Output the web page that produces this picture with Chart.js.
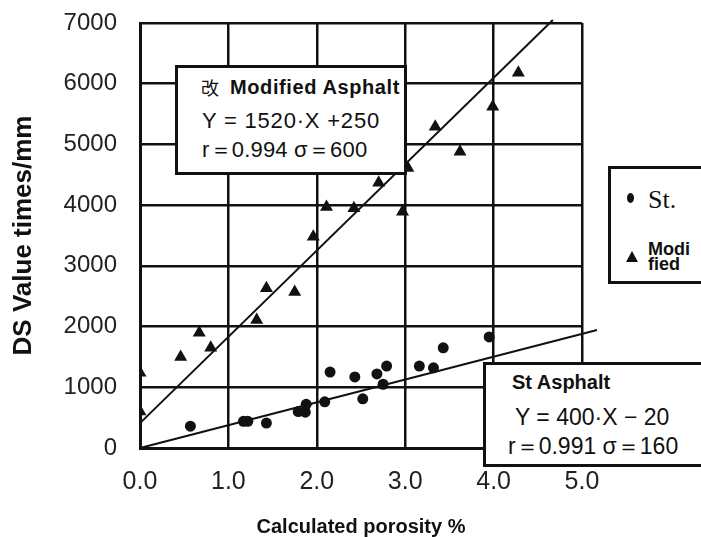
<!DOCTYPE html>
<html lang="en">
<head>
  <meta charset="UTF-8" />
  <title>DS Value vs Calculated Porosity</title>
  <script src="https://cdn.jsdelivr.net/npm/chart.js"></script>
  <style>
    body {
      margin: 0;
      background: #fff;
      font-family: 'Liberation Sans', Arial, sans-serif;
      color: #111;
    }
    .wrap {
      position: relative;
      width: 701px;
      height: 537px;
      overflow: hidden;
    }
    canvas { position: absolute; left: 0; top: 0; }
    .box {
      position: absolute;
      background: #fff;
      border: 3px solid #111;
      box-sizing: border-box;
    }
    .t {
      position: absolute;
      white-space: nowrap;
      line-height: 1;
    }
    .b { font-weight: bold; }
    .dot {
      position: absolute;
      width: 7px;
      height: 10px;
      border-radius: 50%;
      background: #111;
    }
    .tri {
      position: absolute;
      width: 0;
      height: 0;
      border-left: 6px solid transparent;
      border-right: 6px solid transparent;
      border-bottom: 11px solid #111;
    }
  </style>
</head>
<body>
  <div class="wrap">
    <canvas id="dsChart" width="701" height="537"></canvas>

    <!-- modified asphalt fit box -->
    <div class="box" style="left:175px; top:65px; width:232px; height:110px;"></div>
    <div class="t" style="left:201px; top:78px; font-size:18px; font-family:'Noto Sans CJK JP';">改</div>
    <div class="t b" style="left:230px; top:77px; font-size:20px; letter-spacing:0.6px;">Modified Asphalt</div>
    <div class="t" style="left:202px; top:110px; font-size:22px; letter-spacing:0.8px;">Y = 1520·X +250</div>
    <div class="t" style="left:202px; top:139px; font-size:22px; letter-spacing:0.2px;">r＝0.994  σ＝600</div>

    <!-- st asphalt fit box -->
    <div class="box" style="left:483px; top:362px; width:240px; height:105px;"></div>
    <div class="t b" style="left:512px; top:372px; font-size:20px;">St Asphalt</div>
    <div class="t" style="left:515px; top:406px; font-size:23px;">Y = 400·X − 20</div>
    <div class="t" style="left:508px; top:435px; font-size:23px;">r＝0.991  σ＝160</div>

    <!-- legend -->
    <div class="box" style="left:608px; top:166px; width:120px; height:118px;"></div>
    <div class="dot" style="left:627px; top:193px;"></div>
    <div class="t" style="left:648px; top:187px; font-size:26px; font-family:'Liberation Serif', serif;">St.</div>
    <div class="tri" style="left:626px; top:251px;"></div>
    <div class="t b" style="left:648px; top:240px; font-size:18px;">Modi</div>
    <div class="t b" style="left:648px; top:255px; font-size:18px;">fied</div>
  </div>

  <script>
    const xTickLabels = ['0.0', '1.0', '2.0', '3.0', '4.0', '5.0'];
    const yTickLabels = ['0', '1000', '2000', '3000', '4000', '5000', '6000', '7000'];

    // St. asphalt measurements
    const stX = [0.57, 1.17, 1.22, 1.43, 1.79, 1.87, 1.88, 2.09, 2.15, 2.43, 2.52, 2.68, 2.75, 2.79, 3.16, 3.32, 3.43, 3.95];
    const stY = [360, 440, 440, 410, 600, 590, 720, 760, 1250, 1170, 810, 1220, 1050, 1350, 1350, 1320, 1650, 1830];

    // modified asphalt measurements
    const modX = [0, 0, 0.46, 0.67, 0.80, 1.32, 1.43, 1.75, 1.96, 2.11, 2.42, 2.70, 2.97, 3.03, 3.34, 3.62, 3.99, 4.28];
    const modY = [1240, 600, 1500, 1900, 1650, 2110, 2630, 2570, 3480, 3970, 3950, 4370, 3890, 4610, 5290, 4880, 5620, 6180];

    // regression lines, as drawn
    const stFitX = [0, 5.17];
    const stFitY = [0, 1944];
    const modFitX = [0, 4.67];
    const modFitY = [410, 7050];

    const pts = (xs, ys) => xs.map((x, i) => ({ x: x, y: ys[i] }));
    const ink = '#111';
    const family = "'Liberation Sans', Arial, sans-serif";

    new Chart(document.getElementById('dsChart'), {
      type: 'scatter',
      data: {
        datasets: [
          {
            label: 'St.',
            data: pts(stX, stY),
            pointStyle: 'circle',
            pointRadius: 5.5,
            backgroundColor: ink,
            borderColor: ink,
            borderWidth: 0
          },
          {
            label: 'Modified',
            data: pts(modX, modY),
            pointStyle: 'triangle',
            pointRadius: 7.5,
            backgroundColor: ink,
            borderColor: ink,
            borderWidth: 0
          },
          {
            label: 'St fit',
            data: pts(stFitX, stFitY),
            showLine: true,
            pointRadius: 0,
            borderColor: ink,
            borderWidth: 2,
            clip: false
          },
          {
            label: 'Modified fit',
            data: pts(modFitX, modFitY),
            showLine: true,
            pointRadius: 0,
            borderColor: ink,
            borderWidth: 2,
            clip: false
          }
        ]
      },
      options: {
        responsive: false,
        animation: false,
        layout: { padding: { top: 23, right: 119, left: 0, bottom: 0 } },
        plugins: {
          legend: { display: false },
          tooltip: { enabled: false }
        },
        scales: {
          x: {
            type: 'linear',
            min: 0,
            max: 5,
            ticks: {
              stepSize: 1,
              padding: 19,
              color: '#222',
              font: { family: family, size: 25 },
              callback: (v, i) => xTickLabels[i]
            },
            grid: { color: ink, lineWidth: 2.5, drawTicks: false },
            border: { color: ink, width: 3 },
            title: {
              display: true,
              text: 'Calculated porosity %',
              color: ink,
              font: { family: family, size: 20, weight: 'bold', lineHeight: 1 },
              padding: { top: 0, bottom: 0 }
            },
            afterFit: s => { s.height = 89; }
          },
          y: {
            min: 0,
            max: 7000,
            ticks: {
              stepSize: 1000,
              padding: 23,
              color: '#222',
              font: { family: family, size: 24 },
              callback: (v, i) => yTickLabels[i]
            },
            grid: { color: ink, lineWidth: 2.5, drawTicks: false },
            border: { color: ink, width: 3 },
            title: {
              display: true,
              text: 'DS Value times/mm',
              color: ink,
              font: { family: family, size: 26, weight: 'bold' },
              padding: { top: 8, bottom: 0 }
            },
            afterFit: s => {
              s.width = 140;
              s.paddingTop = 0;
              s.paddingBottom = 0;
            }
          }
        }
      }
    });
  </script>
</body>
</html>
